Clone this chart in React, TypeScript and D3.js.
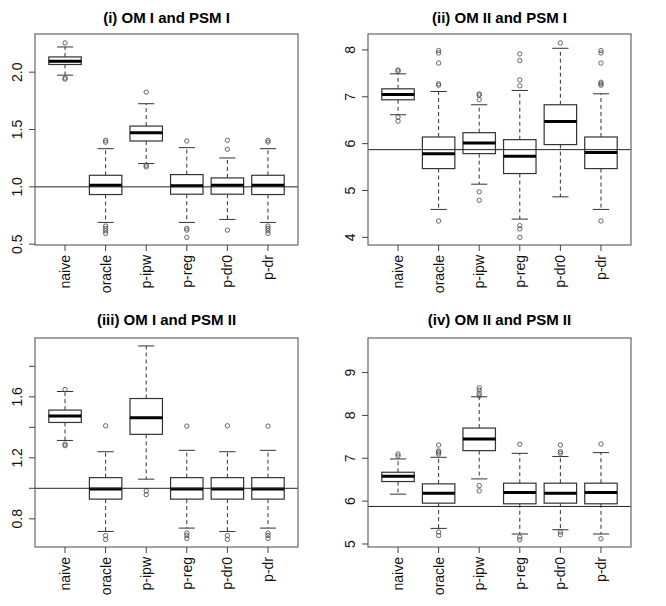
import React from "react";
import * as d3 from "d3";

const categories = ["naive", "oracle", "p-ipw", "p-reg", "p-dr0", "p-dr"];
const titles = ["(i) OM I and PSM I", "(ii) OM II and PSM I", "(iii) OM I and PSM II", "(iv) OM II and PSM II"];

// Panel (i)
const p1Low = [1.974, 0.69, 1.203, 0.69, 0.716, 0.69];
const p1Q1 = [2.067, 0.933, 1.40, 0.936, 0.936, 0.933];
const p1Med = [2.096, 1.014, 1.472, 1.009, 1.014, 1.014];
const p1Q3 = [2.133, 1.101, 1.53, 1.107, 1.078, 1.101];
const p1High = [2.22, 1.333, 1.725, 1.342, 1.252, 1.333];
const p1Out = [
  [2.255, 1.95, 1.94],
  [1.406, 1.39, 0.658, 0.638, 0.617, 0.594],
  [1.826, 1.188, 1.174],
  [1.40, 0.638, 0.623, 0.559],
  [1.406, 1.328, 0.623],
  [1.406, 1.391, 0.658, 0.638, 0.617, 0.594],
];
const p1Ref = 1.0;
const p1Ticks = [0.5, 1.0, 1.5, 2.0];
const p1Labels = ["0.5", "1.0", "1.5", "2.0"];
const p1Domain = [0.493, 2.333];

// Panel (ii)
const p2Low = [6.617, 4.596, 5.135, 4.39, 4.865, 4.596];
const p2Q1 = [6.936, 5.468, 5.787, 5.362, 5.98, 5.468];
const p2Med = [7.05, 5.787, 6.014, 5.73, 6.475, 5.81];
const p2Q3 = [7.17, 6.142, 6.234, 6.085, 6.83, 6.142];
const p2High = [7.49, 7.113, 6.83, 7.135, 8.035, 7.064];
const p2Out = [
  [7.574, 7.546, 6.567, 6.48],
  [7.986, 7.936, 7.72, 7.277, 7.248, 4.35],
  [7.06, 7.035, 6.94, 4.97, 4.79],
  [7.915, 7.773, 7.362, 7.234, 4.25, 4.18, 4.0],
  [8.15],
  [7.986, 7.936, 7.72, 7.31, 7.277, 7.248, 4.35],
];
const p2Ref = 5.872;
const p2Ticks = [4, 5, 6, 7, 8];
const p2Labels = ["4", "5", "6", "7", "8"];
const p2Domain = [3.837, 8.34];

// Panel (iii)
const p3Low = [1.314, 0.717, 1.06, 0.739, 0.717, 0.739];
const p3Q1 = [1.432, 0.929, 1.354, 0.929, 0.929, 0.929];
const p3Med = [1.474, 0.996, 1.463, 0.996, 0.996, 0.996];
const p3Q3 = [1.513, 1.07, 1.589, 1.07, 1.07, 1.07];
const p3High = [1.635, 1.24, 1.934, 1.249, 1.24, 1.249];
const p3Out = [
  [1.648, 1.29, 1.28],
  [1.41, 0.69, 0.665],
  [0.983, 0.959],
  [1.408, 0.706, 0.69, 0.671],
  [1.41, 0.69, 0.665],
  [1.408, 0.706, 0.69, 0.671],
];
const p3Ref = 1.0;
const p3Ticks = [0.8, 1.0, 1.2, 1.4, 1.6, 1.8];
const p3Labels = ["0.8", "", "1.2", "", "1.6", ""];
const p3Domain = [0.615, 1.986];

// Panel (iv)
const p4Low = [6.163, 5.364, 6.519, 5.233, 5.333, 5.233];
const p4Q1 = [6.457, 5.953, 7.178, 5.938, 5.953, 5.938];
const p4Med = [6.58, 6.186, 7.45, 6.2, 6.186, 6.2];
const p4Q3 = [6.674, 6.403, 7.705, 6.419, 6.419, 6.419];
const p4High = [6.984, 7.023, 8.434, 7.116, 7.04, 7.132];
const p4Out = [
  [7.10, 7.054],
  [7.31, 7.17, 7.14, 7.10, 5.28, 5.2],
  [8.643, 8.589, 8.512, 8.457, 6.364, 6.24],
  [7.326, 5.163, 5.1],
  [7.31, 7.155, 7.116, 5.279, 5.217],
  [7.333, 5.124],
];
const p4Ref = 5.876;
const p4Ticks = [5, 6, 7, 8, 9];
const p4Labels = ["5", "6", "7", "8", "9"];
const p4Domain = [4.93, 9.806];

const panels = [
  { low: p1Low, q1: p1Q1, med: p1Med, q3: p1Q3, high: p1High, out: p1Out, ref: p1Ref, ticks: p1Ticks, labels: p1Labels, domain: p1Domain },
  { low: p2Low, q1: p2Q1, med: p2Med, q3: p2Q3, high: p2High, out: p2Out, ref: p2Ref, ticks: p2Ticks, labels: p2Labels, domain: p2Domain },
  { low: p3Low, q1: p3Q1, med: p3Med, q3: p3Q3, high: p3High, out: p3Out, ref: p3Ref, ticks: p3Ticks, labels: p3Labels, domain: p3Domain },
  { low: p4Low, q1: p4Q1, med: p4Med, q3: p4Q3, high: p4High, out: p4Out, ref: p4Ref, ticks: p4Ticks, labels: p4Labels, domain: p4Domain },
];

const frames = [
  { x0: 35, x1: 298, y0: 34, y1: 245, ty: 23 },
  { x0: 368, x1: 631, y0: 34, y1: 245, ty: 23 },
  { x0: 35, x1: 298, y0: 338, y1: 547, ty: 325 },
  { x0: 368, x1: 631, y0: 338, y1: 547, ty: 325 },
];

const FONT = "Liberation Sans, Arial, sans-serif";
const LINE = "#333";

function Panel({ p, f, title }: any) {
  const x = d3.scaleLinear().domain([0.26, 6.74]).range([f.x0, f.x1]);
  const y = d3.scaleLinear().domain(p.domain).range([f.y1, f.y0]);
  const bw = (x(1.4) - x(0.6));
  const cap = bw / 2;
  return (
    <g>
      <text x={(f.x0 + f.x1) / 2} y={f.ty} textAnchor="middle" fontFamily={FONT} fontWeight="bold" fontSize={15} fill="#000">
        {title}
      </text>
      {categories.map((c, i) => {
        const cx = x(i + 1);
        return (
          <g key={c}>
            <line x1={cx} x2={cx} y1={y(p.q3[i])} y2={y(p.high[i])} stroke={LINE} strokeWidth={1} strokeDasharray="4,3" />
            <line x1={cx} x2={cx} y1={y(p.q1[i])} y2={y(p.low[i])} stroke={LINE} strokeWidth={1} strokeDasharray="4,3" />
            <line x1={cx - cap / 2} x2={cx + cap / 2} y1={y(p.high[i])} y2={y(p.high[i])} stroke={LINE} strokeWidth={1} />
            <line x1={cx - cap / 2} x2={cx + cap / 2} y1={y(p.low[i])} y2={y(p.low[i])} stroke={LINE} strokeWidth={1} />
            <rect x={cx - bw / 2} y={y(p.q3[i])} width={bw} height={y(p.q1[i]) - y(p.q3[i])} fill="white" stroke={LINE} strokeWidth={1.2} />
            <line x1={cx - bw / 2} x2={cx + bw / 2} y1={y(p.med[i])} y2={y(p.med[i])} stroke="#000" strokeWidth={3} />
            {p.out[i].map((v: number, j: number) => (
              <circle key={j} cx={cx} cy={y(v)} r={2.2} fill="none" stroke="#444" strokeWidth={0.8} />
            ))}
          </g>
        );
      })}
      <line x1={f.x0} x2={f.x1} y1={y(p.ref)} y2={y(p.ref)} stroke="#222" strokeWidth={1} />
      <rect x={f.x0} y={f.y0} width={f.x1 - f.x0} height={f.y1 - f.y0} fill="none" stroke="#666" strokeWidth={1.2} />
      {p.ticks.map((t: number, i: number) => (
        <g key={t}>
          <line x1={f.x0 - 6} x2={f.x0} y1={y(t)} y2={y(t)} stroke="#444" strokeWidth={1} />
          {p.labels[i] && (
            <text transform={`translate(${f.x0 - 13},${y(t)}) rotate(-90)`} textAnchor="middle" fontFamily={FONT} fontSize={14} fill="#111">
              {p.labels[i]}
            </text>
          )}
        </g>
      ))}
      {categories.map((c, i) => (
        <g key={c}>
          <line x1={x(i + 1)} x2={x(i + 1)} y1={f.y1} y2={f.y1 + 6} stroke="#444" strokeWidth={1} />
          <text transform={`translate(${x(i + 1) + 5},${f.y1 + 10}) rotate(-90)`} textAnchor="end" fontFamily={FONT} fontSize={14} fill="#111">
            {c}
          </text>
        </g>
      ))}
    </g>
  );
}

export default function App() {
  return (
    <svg width={666} height={606} style={{ position: "absolute", left: 0, top: 0, background: "white" }}>
      <rect width={666} height={606} fill="white" />
      {panels.map((p, i) => (
        <Panel key={i} p={p} f={frames[i]} title={titles[i]} />
      ))}
    </svg>
  );
}
